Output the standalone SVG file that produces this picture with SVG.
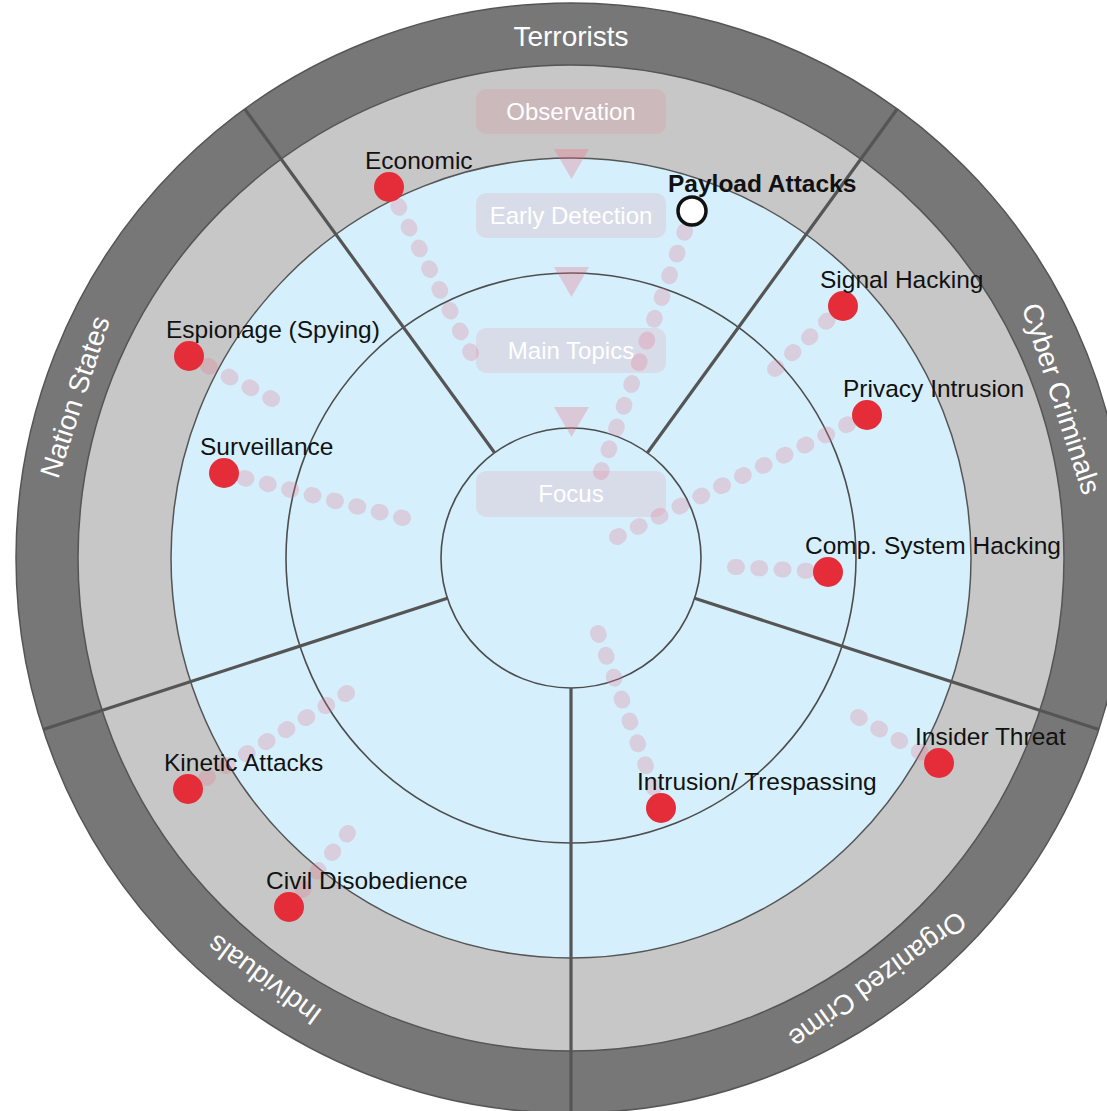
<svg xmlns="http://www.w3.org/2000/svg" width="1107" height="1111" viewBox="0 0 1107 1111">
<style>
text { font-family: "Liberation Sans", Arial, sans-serif; }
.ring-outer { fill:#777777; stroke:#555555; stroke-width:1.5; }
.ring-mid { fill:#c7c7c7; stroke:#555555; stroke-width:1.5; }
.ring-blue { fill:#d5f0fc; stroke:#555555; stroke-width:1.5; }
.inner { fill:none; stroke:#4d4d4d; stroke-width:1.6; }
.divider { stroke:#555555; stroke-width:3.2; }
.sector-label { fill:#ffffff; font-size:28px; text-anchor:middle; }
.stage-box { fill:rgb(235,110,130); fill-opacity:0.15; }
.stage-text { fill:#ffffff; font-size:24px; text-anchor:middle; }
.arrow { fill:rgb(235,110,130); fill-opacity:0.3; }
.trail { stroke:rgb(230,115,140); stroke-opacity:0.27; stroke-width:16; stroke-linecap:round; fill:none; }
.blip { fill:#e42d38; }
.blip-sel { fill:#ffffff; stroke:#111111; stroke-width:3.5; }
.blip-label { fill:#111111; font-size:24.5px; }
.blip-label-sel { fill:#111111; font-size:24.5px; font-weight:bold; }
</style>
<rect width="1107" height="1111" fill="#ffffff"/>

<g id="rings">
  <circle class="ring-outer" cx="571" cy="558" r="555"/>
  <circle class="ring-mid" cx="571" cy="558" r="493"/>
  <circle class="ring-blue" cx="571" cy="558" r="400"/>
  <circle class="inner" cx="571" cy="558" r="285"/>
  <circle class="inner" cx="571" cy="558" r="130"/>
</g>

<g id="dividers">
  <line class="divider" x1="494.6" y1="452.8" x2="244.8" y2="109"/>
  <line class="divider" x1="647.4" y1="452.8" x2="897.2" y2="109"/>
  <line class="divider" x1="694.6" y1="598.2" x2="1098.9" y2="729.5"/>
  <line class="divider" x1="571" y1="688" x2="571" y2="1113"/>
  <line class="divider" x1="447.4" y1="598.2" x2="43.1" y2="729.5"/>
</g>

<g id="sector-terrorists"><text class="sector-label" transform="translate(571 558) rotate(0) translate(0 -522)" y="10">Terrorists</text></g>
<g id="sector-cyber-criminals"><text class="sector-label" transform="translate(571 558) rotate(72) translate(0 -516)" y="10">Cyber Criminals</text></g>
<g id="sector-organized-crime"><text class="sector-label" transform="translate(571 558) rotate(144) translate(0 -522)" y="10">Organized Crime</text></g>
<g id="sector-individuals"><text class="sector-label" transform="translate(571 558) rotate(216) translate(0 -522)" y="10">Individuals</text></g>
<g id="sector-nation-states"><text class="sector-label" transform="translate(571 558) rotate(288) translate(0 -522)" y="10">Nation States</text></g>

<g id="stage-observation">
  <rect class="stage-box" x="476" y="89" width="190" height="45" rx="10"/>
  <text class="stage-text" x="571" y="120">Observation</text>
</g>
<g id="stage-early-detection">
  <rect class="stage-box" x="476" y="193" width="190" height="45" rx="10"/>
  <text class="stage-text" x="571" y="224">Early Detection</text>
</g>
<g id="stage-main-topics">
  <rect class="stage-box" x="476" y="328" width="190" height="45" rx="10"/>
  <text class="stage-text" x="571" y="359">Main Topics</text>
</g>
<g id="stage-focus">
  <rect class="stage-box" x="476" y="471" width="190" height="46" rx="10"/>
  <text class="stage-text" x="571" y="502">Focus</text>
</g>
<g id="stage-arrows">
  <polygon class="arrow" points="554,149 589,149 571.5,179"/>
  <polygon class="arrow" points="554,267 589,267 571.5,297"/>
  <polygon class="arrow" points="554,407 589,407 571.5,437"/>
</g>

<g id="connectors">
  <line class="trail" x1="471" y1="353" x2="389" y2="187" stroke-dasharray="2 21.14"/>
  <line class="trail" x1="601" y1="472" x2="692" y2="211" stroke-dasharray="2 21.03"/>
  <line class="trail" x1="775" y1="369" x2="843" y2="306" stroke-dasharray="2 21.17"/>
  <line class="trail" x1="617" y1="537" x2="867" y2="415" stroke-dasharray="2 21.18"/>
  <line class="trail" x1="735" y1="567" x2="828" y2="572" stroke-dasharray="2 21.28"/>
  <line class="trail" x1="272" y1="399" x2="189" y2="356" stroke-dasharray="2 21.37"/>
  <line class="trail" x1="403" y1="518" x2="224" y2="473" stroke-dasharray="2 21.07"/>
  <line class="trail" x1="347" y1="693" x2="188" y2="789" stroke-dasharray="2 21.22"/>
  <line class="trail" x1="348" y1="833" x2="289" y2="907" stroke-dasharray="2 21.66"/>
  <line class="trail" x1="858" y1="717" x2="939" y2="763" stroke-dasharray="2 21.29"/>
  <line class="trail" x1="598" y1="633" x2="661" y2="808" stroke-dasharray="2 21.25"/>
</g>

<g id="blip-economic">
  <circle class="blip" cx="389" cy="187" r="15"/>
  <text class="blip-label" x="365" y="169">Economic</text>
</g>
<g id="blip-payload-attacks">
  <circle class="blip-sel" cx="692" cy="211" r="14"/>
  <text class="blip-label-sel" x="668" y="192">Payload Attacks</text>
</g>
<g id="blip-signal-hacking">
  <circle class="blip" cx="843" cy="306" r="15"/>
  <text class="blip-label" x="820" y="288">Signal Hacking</text>
</g>
<g id="blip-privacy-intrusion">
  <circle class="blip" cx="867" cy="415" r="15"/>
  <text class="blip-label" x="843" y="397">Privacy Intrusion</text>
</g>
<g id="blip-comp-system-hacking">
  <circle class="blip" cx="828" cy="572" r="15"/>
  <text class="blip-label" x="805" y="554">Comp. System Hacking</text>
</g>
<g id="blip-espionage">
  <circle class="blip" cx="189" cy="356" r="15"/>
  <text class="blip-label" x="166" y="338">Espionage (Spying)</text>
</g>
<g id="blip-surveillance">
  <circle class="blip" cx="224" cy="473" r="15"/>
  <text class="blip-label" x="200" y="455">Surveillance</text>
</g>
<g id="blip-kinetic-attacks">
  <circle class="blip" cx="188" cy="789" r="15"/>
  <text class="blip-label" x="164" y="771">Kinetic Attacks</text>
</g>
<g id="blip-civil-disobedience">
  <circle class="blip" cx="289" cy="907" r="15"/>
  <text class="blip-label" x="266" y="889">Civil Disobedience</text>
</g>
<g id="blip-insider-threat">
  <circle class="blip" cx="939" cy="763" r="15"/>
  <text class="blip-label" x="915" y="745">Insider Threat</text>
</g>
<g id="blip-intrusion-trespassing">
  <circle class="blip" cx="661" cy="808" r="15"/>
  <text class="blip-label" x="637" y="790">Intrusion/ Trespassing</text>
</g>
</svg>
